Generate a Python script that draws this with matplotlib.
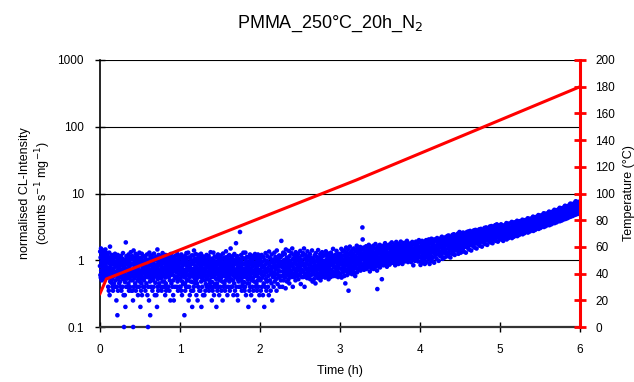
import numpy as np
import matplotlib
matplotlib.use("Agg")
import matplotlib.pyplot as plt

plt.rcParams['font.family'] = ['Liberation Sans', 'DejaVu Sans']

# CL intensity readings in hundredths of counts s^-1 mg^-1, regular sampling within each hour
cl_h0 = """
82 135 60 110 55 150 70 95 125 50 88 115 64 102 78 140 58 92 120 74
66 98 130 85 52 112 72 145 90 62 105 80 56 128 94 68 118 76 100 60
72 40 105 62 35 90 130 55 30 78 160 48 66 112 84 57 97 46 70 120
88 52 40 102 64 35 118 75 92 58 45 108 68 85 40 125 60 95 50 80
66 112 25 85 40 58 97 15 70 120 35 52 110 76 63 90 45 104 58 82
48 72 98 40 64 116 87 35 55 94 70 106 60 40 83 128 52 76 30 91
10 80 62 102 30 47 92 20 75 185 56 40 115 68 88 53 107 72 40 96
60 84 45 122 66 35 98 78 55 112 40 70 90 50 132 64 86 35 104 58
68 115 35 50 88 25 10 60 140 40 76 64 97 54 110 80 45 70 125 35
92 58 104 74 40 86 62 118 50 96 30 72 108 56 82 40 66 130 48 90
95 52 20 70 108 35 60 45 84 125 30 64 100 76 55 92 40 116 68 86
50 78 98 40 62 112 74 35 88 56 104 70 45 94 60 122 80 30 66 100
10 78 40 100 55 25 72 130 58 90 48 15 112 66 84 40 96 62 118 52
74 92 35 60 106 80 50 88 40 70 126 56 98 64 30 84 110 46 76 62
66 112 30 58 85 20 74 145 40 52 96 35 82 120 62 104 45 70 92 56
86 60 108 40 72 98 54 116 35 80 64 94 48 128 68 40 90 58 102 76
70 48 105 60 40 88 30 55 120 45 78 35 96 66 112 82 40 58 100 74
62 94 40 118 56 84 70 35 106 50 90 66 25 80 124 60 96 45 72 110
62 92 40 82 74 110 30 50 85 25 68 100 58 96 40 116 70 88 54 78
84 56 102 66 40 92 72 124 48 80 35 106 60 88 70 114 52 94 40 76
"""
cl_h1 = """
75 52 108 40 66 90 35 122 58 80 30 48 95 62 112 72 44 86 100 56
95 62 15 72 115 45 35 86 55 102 40 68 128 60 82 50 94 40 76 110
50 130 78 25 60 92 40 70 110 30 56 84 66 104 48 88 35 74 118 62
64 20 98 47 74 118 35 58 88 40 140 66 54 96 72 106 45 82 60 124
80 50 30 105 62 45 94 72 25 55 120 40 68 88 58 112 76 35 98 64
70 100 35 60 82 125 48 20 76 92 54 40 108 66 86 30 114 58 74 96
66 112 30 86 50 72 102 35 60 44 96 78 55 120 40 90 68 104 52 82
88 58 40 116 62 35 92 74 50 106 45 80 64 132 40 70 98 56 84 25
74 47 106 35 62 88 40 130 56 70 30 98 80 60 114 44 92 68 40 76
84 52 20 66 110 45 76 35 94 60 122 40 72 100 56 86 30 64 108 50
60 96 40 78 54 118 70 35 90 62 104 48 82 25 66 126 58 88 40 74
92 66 45 110 74 35 58 100 80 50 136 62 40 86 70 112 54 30 96 68
56 104 78 40 64 90 120 48 72 35 98 60 84 150 52 76 40 108 66 88
70 40 94 62 116 50 80 30 102 58 74 45 124 66 88 35 56 98 72 60
180 58 40 90 68 110 30 115 52 80 25 64 96 48 76 40 104 60 86 72
265 56 84 40 100 66 120 50 78 35 92 62 108 45 74 88 56 130 40 68
74 47 106 35 62 88 40 130 56 70 30 98 80 58 112 66 90 45 76 52
84 52 20 66 110 45 76 35 94 60 122 40 72 102 56 86 30 64 108 50
66 96 40 80 54 116 70 35 90 62 106 48 84 25 68 124 58 88 40 74
92 60 45 110 74 35 58 100 82 50 122 64 40 86 70 114 54 30 96 68
"""
cl_h2 = """
72 105 50 35 86 62 120 40 78 55 95 30 68 112 45 82 20 60 100 40
74 128 52 88 35 66 98 48 115 76 40 58 90 30 135 70 84 50 108 62
35 94 72 45 122 80 25 64 56 102 78 40 90 66 130 48 86 60 112 74
52 98 35 140 82 62 44 105 70 92 55 80 118 58 40 96 68 110 50 86
195 80 58 118 40 90 68 130 50 76 100 62 85 125 55 72 38 145 95 64
110 48 80 70 60 102 88 52 138 74 45 115 82 66 98 58 92 70 128 56
84 150 64 40 105 78 60 120 90 56 108 72 96 50 132 66 86 62 114 76
58 100 70 124 52 88 74 110 60 95 80 138 64 44 102 72 92 56 118 84
92 70 128 56 84 150 64 40 105 78 60 120 90 56 108 72 96 54 136 66
86 62 114 76 58 100 70 124 52 88 74 110 60 95 80 140 64 48 102 72
66 104 52 90 74 118 60 84 45 128 70 96 58 112 80 64 100 54 142 76
88 58 110 72 94 62 124 50 82 106 68 90 56 132 74 98 62 116 84 70
60 96 78 120 55 88 70 136 64 102 84 58 114 76 92 66 126 52 100 80
74 112 62 98 86 56 130 72 104 60 90 118 68 84 148 58 96 78 108 64
92 66 120 80 58 104 74 138 62 94 110 70 86 56 124 78 100 64 116 88
"""
cl_h3 = """
90 125 62 105 75 148 55 98 115 70 85 135 66 102 80 140 58 92 120 74
45 108 86 155 68 96 130 60 112 82 145 72 35 100 90 122 64 160 78 105
88 132 70 115 95 62 142 80 108 74 125 92 150 66 100 84 118 58 138 96
76 112 94 165 66 102 128 86 148 72 110 90 135 80 120 98 158 70 105 130
88 145 76 115 310 205 84 125 102 155 72 118 92 140 80 108 130 96 162 74
112 86 135 100 150 78 122 94 170 82 110 128 68 145 90 116 104 158 76 125
96 140 84 118 106 165 74 130 92 152 100 120 86 175 80 112 136 98 148 70
37 124 90 160 104 82 142 110 95 170 78 128 100 150 88 118 136 52 106 164
92 132 112 84 158 100 124 146 90 180 108 86 138 118 96 168 80 126 150 104
114 88 162 98 130 152 86 120 175 104 142 94 132 110 185 92 124 160 100 138
96 150 118 90 170 106 136 84 158 122 100 188 112 94 146 128 166 104 130 88
140 102 176 116 92 152 130 108 190 98 124 162 112 144 88 170 120 134 104 158
110 182 126 96 150 136 114 168 100 140 122 195 106 132 158 94 146 118 176 128
100 156 120 178 108 142 130 94 166 124 112 188 136 104 150 84 172 118 146 130
126 98 170 140 110 190 122 152 104 162 134 116 180 96 146 128 200 112 158 138
"""
cl_h4 = """
110 155 85 130 180 95 142 115 195 102 162 125 92 148 120 185 105 138 88 170
128 152 112 200 135 95 165 122 190 145 108 175 132 205 118 158 88 180 126 100
140 180 115 210 152 98 195 162 110 185 130 145 170 92 205 155 125 200 120 148
138 195 105 150 215 172 122 142 200 165 98 190 155 130 210 170 115 162 185 135
205 120 225 150 175 105 190 160 140 215 178 130 200 110 165 220 145 185 125 195
170 130 230 185 115 205 150 235 160 125 195 175 140 220 110 180 200 155 225 145
190 125 240 160 210 135 175 245 150 200 120 185 230 165 140 215 180 155 235 195
210 140 250 175 125 225 190 160 265 145 205 180 235 130 195 255 170 215 150 240
220 150 260 185 135 235 200 170 250 160 215 190 130 240 175 205 265 155 225 185
235 160 270 195 145 250 210 180 275 170 225 200 140 255 185 220 265 165 240 205
245 170 280 205 155 260 220 190 285 180 235 210 150 265 195 230 275 175 250 215
255 180 290 215 165 270 230 200 295 190 245 220 160 275 205 240 285 185 260 225
265 190 305 225 175 280 240 210 310 200 255 230 170 290 215 250 300 195 270 235
275 200 320 235 185 295 250 220 325 210 265 240 180 305 225 260 315 205 285 245
290 210 335 250 195 310 265 230 345 220 280 255 190 320 240 275 330 215 300 260
"""
cl_h5 = """
260 205 320 240 345 215 290 270 335 225 280 310 195 300 250 330 230 285 265 210
275 220 340 250 360 205 305 285 350 235 295 325 215 315 260 355 245 300 270 230
290 230 355 265 375 215 320 300 365 250 310 340 225 330 275 370 255 315 285 240
305 245 370 280 390 230 335 315 380 265 325 355 240 345 290 385 270 330 300 255
320 260 385 295 405 245 350 330 395 280 340 370 255 360 305 400 285 345 315 270
340 275 405 310 425 260 370 345 415 295 355 390 270 380 320 420 300 365 330 285
360 290 430 330 450 275 390 365 440 315 375 410 285 400 340 445 320 385 350 300
380 310 455 350 475 295 415 385 465 335 400 435 305 425 360 470 340 410 370 320
405 330 485 370 505 315 440 410 495 355 425 460 325 450 385 500 360 435 395 340
430 350 515 395 535 335 470 435 525 380 450 490 345 480 410 530 385 460 420 360
460 375 550 420 570 360 500 465 560 405 480 520 370 510 440 565 410 490 450 385
490 400 590 450 610 385 535 495 600 435 515 555 395 545 470 605 440 525 480 410
525 430 635 480 655 415 570 530 645 465 550 595 425 585 505 650 470 560 515 440
565 465 685 515 705 450 610 570 695 500 590 640 460 630 545 700 505 600 555 475
605 500 735 555 765 485 655 610 745 540 635 690 495 675 585 750 545 645 595 510
"""
cl_hours = [cl_h0, cl_h1, cl_h2, cl_h3, cl_h4, cl_h5]

# Temperature programme
temp_time = [0.0, 0.08, 3.2, 6.0]
temp_vals = [25, 36, 110, 180]

title = "PMMA_250°C_20h_N$_2$"
x_ticks = [0, 1, 2, 3, 4, 5, 6]
y_ticks = [0.1, 1, 10, 100, 1000]
y_ticklabels = ["0.1", "1", "10", "100", "1000"]
t_ticks = list(range(0, 201, 20))

fig = plt.figure(figsize=(6.34, 3.82), dpi=100)
ax = fig.add_axes([100/634, 1-327/382, 480/634, 267/382])

for h, txt in enumerate(cl_hours):
    vals = np.array(txt.split(), dtype=float) / 100.0
    t = h + np.arange(len(vals)) / len(vals)
    ax.scatter(t, vals, s=11, color='#0000FF', edgecolors='none', clip_on=False, zorder=3)

ax.set_yscale('log')
ax.set_ylim(0.1, 1000)
ax.set_xlim(0, 6)
ax.set_yticks(y_ticks)
ax.set_yticklabels(y_ticklabels)
ax.yaxis.set_minor_locator(matplotlib.ticker.NullLocator())
ax.set_xticks(x_ticks)
for yv in [1, 10, 100, 1000]:
    ax.axhline(yv, color='black', lw=0.8, zorder=1)
ax.tick_params(axis='both', direction='inout', length=7, width=1, labelsize=8.5, colors='black')
ax.tick_params(axis='x', pad=9)
ax.tick_params(axis='y', pad=8)
ax.spines['top'].set_visible(False)
ax.spines['right'].set_visible(False)
ax.spines['left'].set_linewidth(1.2)
ax.spines['bottom'].set_linewidth(1.6)
ax.spines['bottom'].set_color('#333333')
ax.set_xlabel("Time (h)", fontsize=9, labelpad=6)
ax.set_ylabel("normalised CL-Intensity\n(counts s$^{-1}$ mg$^{-1}$)", fontsize=9, labelpad=3)

ax2 = ax.twinx()
ax2.plot(temp_time, temp_vals, color='#FF0000', lw=2.2, zorder=4)
ax2.set_ylim(0, 200)
ax2.set_yticks(t_ticks)
for s in ['top', 'left', 'bottom']:
    ax2.spines[s].set_visible(False)
ax2.spines['right'].set_color('#FF0000')
ax2.spines['right'].set_linewidth(2.2)
ax2.tick_params(axis='y', direction='inout', length=8, width=2, color='#FF0000', labelcolor='black', labelsize=8.5, pad=7)
ax2.set_ylabel("Temperature (°C)", fontsize=9, labelpad=6)

fig.suptitle(title, x=330/634, y=1-14/382, fontsize=13, va='top')

fig.savefig("out.png", dpi=100)
